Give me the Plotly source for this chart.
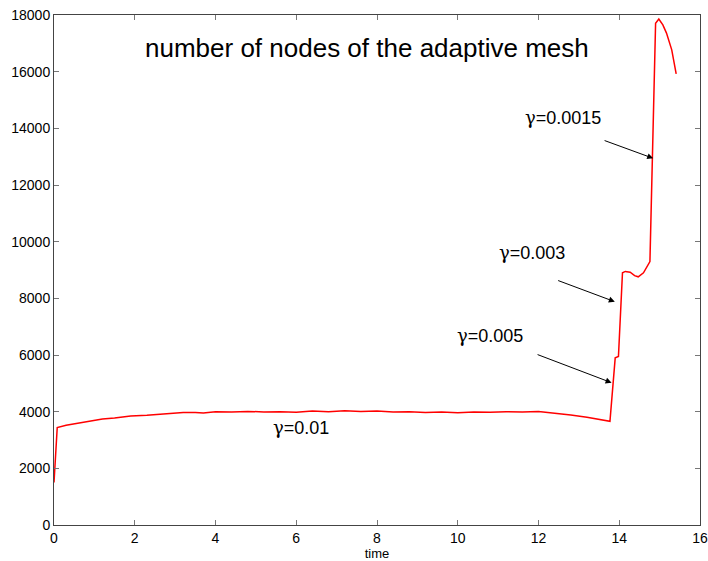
import plotly.graph_objects as go

# Number of mesh nodes over simulated time
time = [0.0, 0.08, 0.3, 0.6, 0.9, 1.2, 1.5, 1.9, 2.3, 2.8, 3.2, 3.5, 3.7, 4.0,
        4.4, 4.8, 5.2, 5.6, 6.0, 6.4, 6.8, 7.2, 7.6, 8.0, 8.4, 8.8, 9.2, 9.6,
        10.0, 10.4, 10.8, 11.2, 11.6, 12.0, 12.4, 12.8, 13.2, 13.5, 13.77,
        13.9, 13.98, 14.08, 14.15, 14.27, 14.38, 14.47, 14.6, 14.76, 14.9,
        14.98, 15.08, 15.17, 15.3, 15.41]
nodes = [1500, 3440, 3520, 3600, 3680, 3740, 3780, 3850, 3870, 3940, 3970, 3975,
         3950, 4000, 3990, 4010, 3990, 4000, 3980, 4020, 4000, 4030, 4010, 4020,
         3990, 4000, 3970, 3990, 3960, 3990, 3980, 4000, 3990, 4010, 3950, 3880,
         3800, 3740, 3660, 5900, 5950, 8900, 8950, 8920, 8800, 8760, 8900, 9300,
         17710, 17860, 17650, 17360, 16770, 15920]

# Adaptivity parameter labels, their positions and the arrows pointing at the curve
gamma_values = ["0.0015", "0.003", "0.005", "0.01"]
label_x = [12.61, 11.83, 10.81, 6.12]
label_y = [14400, 9635, 6671, 3434]
tip_x = [14.84, 13.89, 13.81, None]
tip_y = [12942, 7881, 5022, None]
tail_x = [13.60, 12.45, 11.94, None]
tail_y = [13588, 8647, 6035, None]

title_text = "number of nodes of the adaptive mesh"
x_ticks = list(range(0, 17, 2))
y_ticks = list(range(0, 18001, 2000))

FONT = "Liberation Sans, Arial, Helvetica, sans-serif"
GREEK = "DejaVu Serif, serif"

fig = go.Figure()
fig.add_trace(go.Scatter(x=time, y=nodes, mode="lines",
                         line=dict(color="#ff0000", width=1.5),
                         showlegend=False, hoverinfo="skip"))

annotations = [dict(x=7.75, y=16830, xref="x", yref="y", text=title_text,
                    showarrow=False, font=dict(family=FONT, size=26, color="black"))]
for val, lx, ly, hx, hy, ax, ay in zip(gamma_values, label_x, label_y,
                                       tip_x, tip_y, tail_x, tail_y):
    txt = f'<span style="font-family:{GREEK}">γ</span>={val}'
    annotations.append(dict(x=lx, y=ly, xref="x", yref="y", text=txt,
                            showarrow=False,
                            font=dict(family=FONT, size=18, color="black")))
    if hx is not None:
        annotations.append(dict(x=hx, y=hy, ax=ax, ay=ay, xref="x", yref="y",
                                axref="x", ayref="y", text="", showarrow=True,
                                arrowhead=2, arrowsize=1.2, arrowwidth=1,
                                arrowcolor="black", standoff=0, startstandoff=0))

axis_common = dict(showgrid=False, zeroline=False, showline=True,
                   linecolor="#444", linewidth=1, mirror="ticks",
                   ticks="inside", ticklen=5, tickcolor="#777",
                   automargin=False,
                   tickfont=dict(family=FONT, size=14, color="black"))

fig.update_layout(
    width=708, height=561,
    margin=dict(l=54, r=8, t=15, b=36),
    paper_bgcolor="white", plot_bgcolor="white",
    xaxis=dict(range=[0, 16], tickvals=x_ticks,
               title=dict(text="time", font=dict(family=FONT, size=13, color="black"),
                          standoff=2),
               **axis_common),
    yaxis=dict(range=[0, 18000], tickvals=y_ticks, tickformat="d",
               **axis_common),
    annotations=annotations,
)

fig.write_html("out.html")
